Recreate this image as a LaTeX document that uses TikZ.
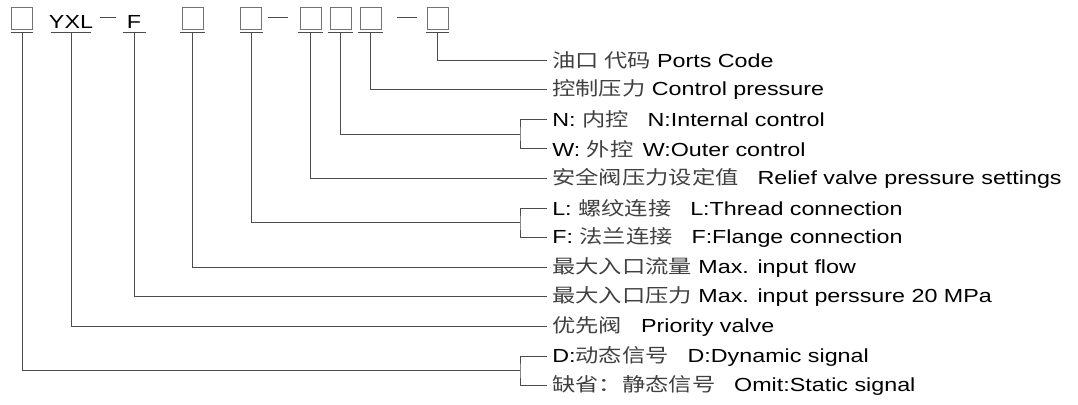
\documentclass[tikz,border=0pt]{standalone}
\usepackage{fontspec}
\setmainfont{Liberation Sans}[FakeStretch=1.23]
\newfontfamily\hanfont{Noto Sans CJK SC}[FakeStretch=1.23]
\usetikzlibrary{calc}
\definecolor{LineClr}{rgb}{0.3,0.3,0.3}
\definecolor{BoxClr}{rgb}{0.45,0.45,0.45}
\definecolor{HanClr}{rgb}{0.25,0.25,0.25}
\newlength{\px}
\setlength{\px}{0.75pt}
\newcommand{\han}[1]{{\hanfont\color{HanClr}#1}}

\begin{document}
\begin{tikzpicture}[x=\px,y=-\px,
  every node/.style={font=\fontsize{14.2}{16}\selectfont},
  codebox/.style={draw=BoxClr,line width=1\px,minimum width=21\px,minimum height=22\px,inner sep=0pt},
  codetext/.style={anchor=base,inner sep=0pt},
  uline/.style={inner sep=0pt,minimum height=0pt},
  item/.style={anchor=west,inner xsep=5\px,inner ysep=0pt},
  feed/.style={draw=LineClr,line width=1\px}]

\useasboundingbox (0,0) rectangle (1078,404);

% Model code: boxes and fixed letters.
\node[codebox] (b1) at (22,18) {};
\node[codetext] (yxl) at (71,28) {YXL};
\node[codetext] (f) at (134,28) {F};
\node[codebox] (b2) at (192.5,18) {};
\node[codebox] (b3) at (251,18) {};
\node[codebox] (b4) at (311,18) {};
\node[codebox] (b5) at (341,18) {};
\node[codebox] (b6) at (371,18) {};
\node[codebox] (b7) at (437.5,18) {};

% Dashes between the groups.
\foreach \a/\b in {100/116,268/288,397/417}
  \draw[feed] (\a,17) -- (\b,17);

% Underlines below every field.
\foreach \n/\x/\w in {u1/22/22,u2/71/40,u3/134.5/23,u4/192.5/25,u5/251.5/23,
                      u6/310.5/25,u7/340.5/25,u8/370.5/25,u9/437.5/23}
  {\node[uline,minimum width=\w\px] (\n) at (\x,32) {};
   \draw[feed] (\n.west) -- (\n.east);}

% Explanations.
\node[item] (t0)  at (547,60)    {\han{油口 代码} Ports Code};
\node[item] (t1)  at (547,89.6)  {\han{控制压力} Control pressure};
\node[item] (t2)  at (547,119.2) {N: \han{内控}\quad N:Internal control};
\node[item] (t3)  at (547,148.8) {W: \han{外控}\enspace W:Outer control};
\node[item] (t4)  at (547,178.4) {\han{安全阀压力设定值}\quad Relief valve pressure settings};
\node[item] (t5)  at (547,208)   {L: \han{螺纹连接}\quad L:Thread connection};
\node[item] (t6)  at (547,237.6) {F: \han{法兰连接}\quad F:Flange connection};
\node[item] (t7)  at (547,267.2) {\han{最大入口流量} Max. input flow};
\node[item] (t8)  at (547,296.8) {\han{最大入口压力} Max. input perssure 20 MPa};
\node[item] (t9)  at (547,326.4) {\han{优先阀}\quad Priority valve};
\node[item] (t10) at (547,356)   {D:\han{动态信号}\quad D:Dynamic signal};
\node[item] (t11) at (547,385.6) {\han{缺省：静态信号}\quad Omit:Static signal};

% Branch points of the brackets.
\coordinate (nw) at (520,134);
\coordinate (lf) at (520,222.8);
\coordinate (ds) at (520,370.8);

% Leader lines.
\draw[feed] (u9.south) |- (t0.west);
\draw[feed] (u8.south) |- (t1.west);
\draw[feed] (u7.south) |- (nw);
\draw[feed] (t2.west) -| (nw) |- (t3.west);
\draw[feed] (u6.south) |- (t4.west);
\draw[feed] (u5.south) |- (lf);
\draw[feed] (t5.west) -| (lf) |- (t6.west);
\draw[feed] (u4.south) |- (t7.west);
\draw[feed] (u3.south) |- (t8.west);
\draw[feed] (u2.south) |- (t9.west);
\draw[feed] (u1.south) |- (ds);
\draw[feed] (t10.west) -| (ds) |- (t11.west);

\end{tikzpicture}
\end{document}
